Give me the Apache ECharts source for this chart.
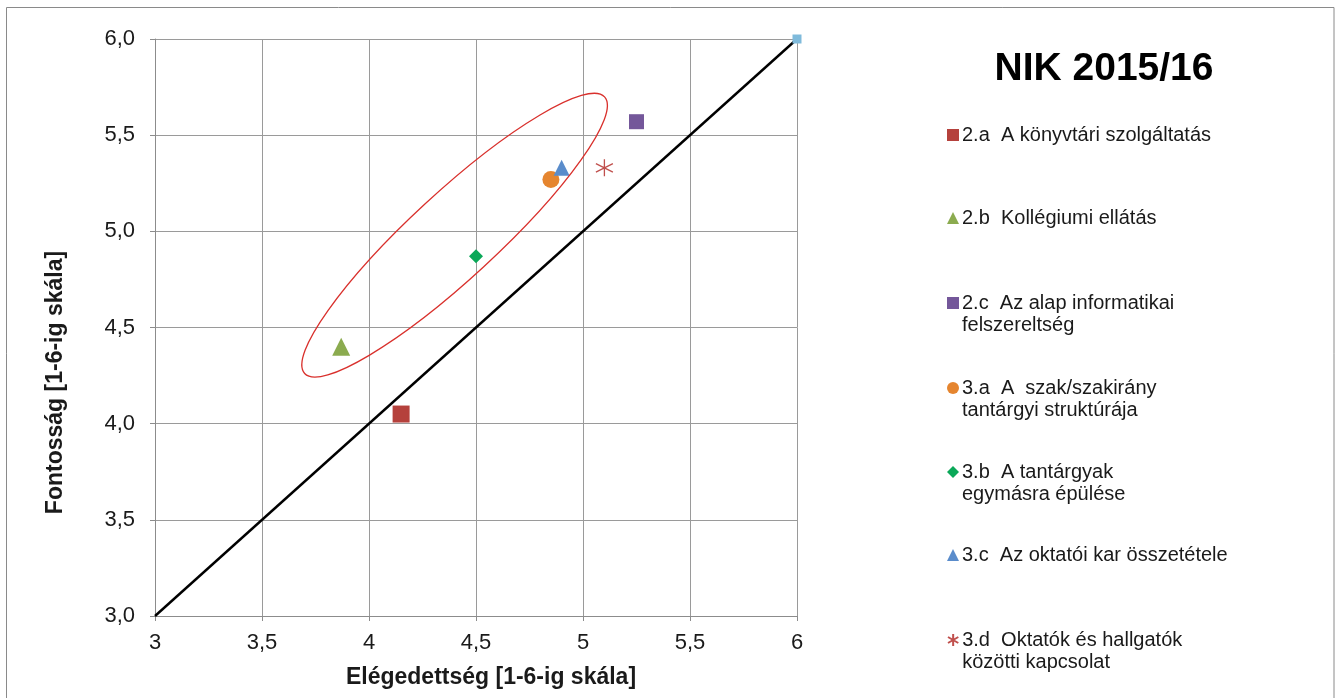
<!DOCTYPE html>
<html>
<head>
<meta charset="utf-8">
<script src="https://cdn.jsdelivr.net/npm/echarts@6/dist/echarts.min.js"></script>
<style>
html,body{margin:0;padding:0;background:#fff;}
#chart{width:1341px;height:698px;}
</style>
</head>
<body>
<div id="chart"></div>
<script>
// ---- data ----
const seriesNames = [
  '2.a  A könyvtári szolgáltatás',
  '2.b  Kollégiumi ellátás',
  '2.c  Az alap informatikai felszereltség',
  '3.a  A  szak/szakirány tantárgyi struktúrája',
  '3.b  A tantárgyak egymásra épülése',
  '3.c  Az oktatói kar összetétele',
  '3.d  Oktatók és hallgatók közötti kapcsolat'
];
const legendLines = [
  ['2.a  A könyvtári szolgáltatás'],
  ['2.b  Kollégiumi ellátás'],
  ['2.c  Az alap informatikai', 'felszereltség'],
  ['3.a  A  szak/szakirány', 'tantárgyi struktúrája'],
  ['3.b  A tantárgyak', 'egymásra épülése'],
  ['3.c  Az oktatói kar összetétele'],
  ['3.d  Oktatók és hallgatók', 'közötti kapcsolat']
];
const satisfaction = [4.15, 3.87, 5.25, 4.85, 4.50, 4.90, 5.10]; // x
const importance   = [4.05, 4.40, 5.57, 5.27, 4.87, 5.33, 5.33]; // y
const diagonal = [[3, 3], [6, 6]];
const xTicks = [3, 3.5, 4, 4.5, 5, 5.5, 6];
const yTicks = [3.0, 3.5, 4.0, 4.5, 5.0, 5.5, 6.0];

// ---- styles ----
const FONT = 'Arial, "Liberation Sans", sans-serif';
const starPath = 'path://M5 0 L5 10 M0.7 2.5 L9.3 7.5 M0.7 7.5 L9.3 2.5';
const styles = [
  {symbol: 'rect', size: 17, color: '#b5413c'},
  {symbol: 'triangle', size: 18, color: '#8bab4f'},
  {symbol: 'rect', size: 15, color: '#74579a'},
  {symbol: 'circle', size: 17, color: '#e5852f'},
  {symbol: 'diamond', size: 14, color: '#0aa858'},
  {symbol: 'triangle', size: 16, color: '#5a8ccb'},
  {symbol: starPath, size: 17, color: '#c0504d', star: true}
];
const legendIconY = [135, 218, 303, 388, 472, 555, 640];

const chart = echarts.init(document.getElementById('chart'));

const series = seriesNames.map((name, i) => {
  const st = styles[i];
  return {
    name: name,
    type: 'scatter',
    symbol: st.symbol,
    symbolSize: st.size,
    itemStyle: st.star
      ? {color: 'rgba(0,0,0,0)', borderColor: st.color, borderWidth: 1.3, opacity: 1}
      : {color: st.color, opacity: 1},
    data: [[satisfaction[i], importance[i]]],
    z: 5
  };
});
series.unshift({
  name: 'diag',
  type: 'line',
  data: [
    {value: diagonal[0], symbol: 'none'},
    {value: diagonal[1], symbol: 'rect', symbolSize: 9, itemStyle: {color: '#7fbadb'}}
  ],
  lineStyle: {color: '#000', width: 2.4},
  itemStyle: {color: '#7fbadb'},
  showSymbol: true,
  clip: false,
  z: 3
});

const lineH = 22;
const legends = seriesNames.map((name, i) => {
  const lines = legendLines[i];
  const multi = lines.length > 1;
  const text = multi ? '\n' + lines.join('\n') : lines[0];
  const h = multi ? lineH * 3 : lineH;
  return {
    show: true,
    data: [{name: name, icon: styles[i].star ? starPath : styles[i].symbol}],
    left: 947,
    top: legendIconY[i] - h / 2,
    itemWidth: 12,
    itemHeight: 12,
    itemGap: 0,
    padding: 0,
    selectedMode: false,
    formatter: () => text,
    textStyle: {fontFamily: FONT, fontSize: 20, color: '#1a1a1a', lineHeight: lineH, padding: [0, 0, 0, -2]}
  };
});

const option = {
  backgroundColor: '#fff',
  animation: false,
  title: {
    text: 'NIK 2015/16',
    left: 1099,
    top: 45,
    textAlign: 'center',
    textStyle: {fontFamily: FONT, fontSize: 39, fontWeight: 'bold', color: '#000'}
  },
  legend: legends,
  grid: {left: 155, right: 544, top: 39, bottom: 82, containLabel: false},
  xAxis: {
    type: 'value', min: 3, max: 6, interval: 0.5,
    name: 'Elégedettség [1-6-ig skála]',
    nameLocation: 'middle', nameGap: 50,
    nameTextStyle: {fontFamily: FONT, fontSize: 23, fontWeight: 'bold', color: '#1a1a1a', padding: [0, 0, 0, 30]},
    axisLine: {show: true, lineStyle: {color: '#8c8c8c', width: 1}},
    axisTick: {show: true, length: 5, lineStyle: {color: '#8c8c8c'}},
    splitLine: {show: true, lineStyle: {color: '#9a9a9a', width: 1}},
    axisLabel: {
      margin: 16, fontFamily: FONT, fontSize: 22, color: '#1a1a1a',
      formatter: v => xTicks.includes(v) ? String(v).replace('.', ',') : ''
    }
  },
  yAxis: {
    type: 'value', min: 3, max: 6, interval: 0.5,
    name: 'Fontosság [1-6-ig skála]',
    nameLocation: 'middle', nameGap: 88, nameRotate: 90,
    nameTextStyle: {fontFamily: FONT, fontSize: 23, fontWeight: 'bold', color: '#1a1a1a', padding: [0, 110, 0, 0]},
    axisLine: {show: true, lineStyle: {color: '#8c8c8c', width: 1}},
    axisTick: {show: true, length: 5, lineStyle: {color: '#8c8c8c'}},
    splitLine: {show: true, lineStyle: {color: '#9a9a9a', width: 1}},
    axisLabel: {
      margin: 20, fontFamily: FONT, fontSize: 22, color: '#1a1a1a',
      formatter: v => yTicks.includes(v) ? v.toFixed(1).replace('.', ',') : ''
    }
  },
  series: series
};
chart.setOption(option);

// annotation ellipse (data-space center), plus outer frame
const c = chart.convertToPixel({gridIndex: 0}, [4.40, 4.98]);
chart.setOption({
  graphic: [
    {
      type: 'rect', silent: true, z: 100,
      shape: {x: 6.5, y: 7.5, width: 1327.5, height: 700},
      style: {fill: 'none', stroke: '#8a8a8a', lineWidth: 1}
    },
    {
      type: 'ellipse', silent: true, z: 100,
      x: c[0], y: c[1], rotation: 0.745,
      shape: {cx: 0, cy: 0, rx: 204, ry: 43},
      style: {fill: 'none', stroke: '#d9302c', lineWidth: 1.3}
    }
  ]
});
</script>
</body>
</html>
